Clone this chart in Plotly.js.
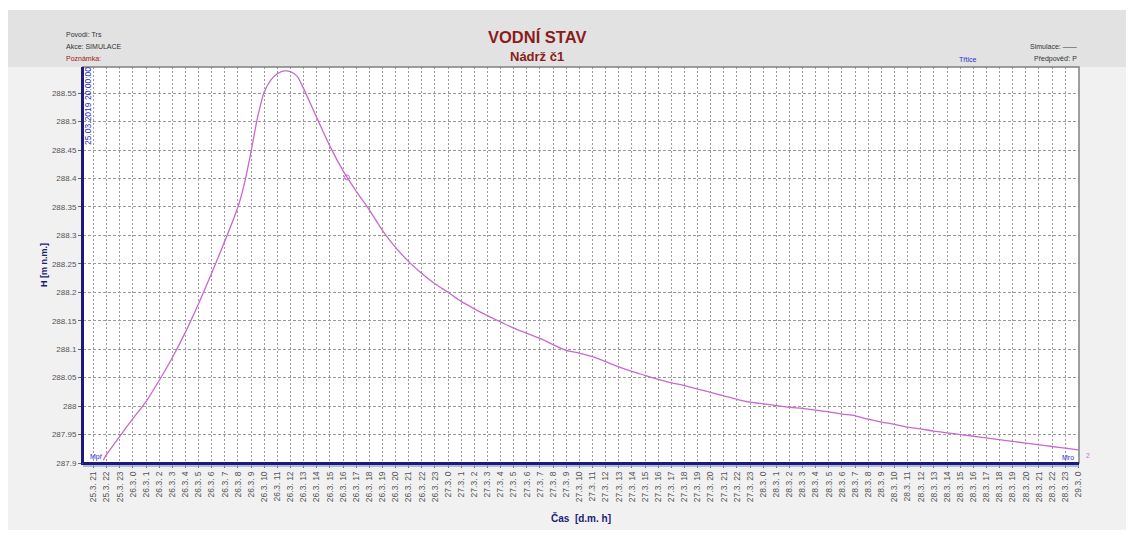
<!DOCTYPE html>
<html>
<head>
<meta charset="utf-8">
<script src="https://cdn.plot.ly/plotly-3.0.1.min.js"></script>
<style>html,body{margin:0;padding:0;background:#fff;}#chart{width:1134px;height:541px;}</style>
</head>
<body>
<div id="chart"></div>
<script>
// hours since 25.3. 21:00
const hours = [0.75,1,2,3,4,5,6,7,8,9,10,11,11.5,12,12.5,13,13.5,14,14.5,15,15.5,16,17,18,19,20,21,22,23,24,25,26,27,28,29,30,31,32,33,34,35,36,37,38,39,40,41,42,43,44,45,46,47,48,49,50,51,52,53,54,55,56,57,58,59,60,61,62,63,64,65,66,67,68,69,70,71,72,73,74,75];
const level = [287.905,287.915,287.947,287.978,288.008,288.045,288.085,288.130,288.180,288.234,288.290,288.350,288.392,288.448,288.508,288.552,288.573,288.584,288.589,288.588,288.580,288.558,288.507,288.457,288.414,288.378,288.345,288.309,288.279,288.254,288.233,288.215,288.200,288.184,288.171,288.159,288.148,288.137,288.128,288.119,288.108,288.098,288.093,288.087,288.078,288.069,288.061,288.054,288.047,288.041,288.036,288.030,288.024,288.018,288.012,288.007,288.004,288.001,287.998,287.996,287.993,287.990,287.986,287.983,287.977,287.972,287.968,287.963,287.960,287.956,287.953,287.950,287.947,287.944,287.941,287.938,287.935,287.932,287.929,287.926,287.923];
const markerHour = [19.3];
const markerLevel = [288.402];
const tickText = ["25.3. 21","25.3. 22","25.3. 23",
"26.3. 0","26.3. 1","26.3. 2","26.3. 3","26.3. 4","26.3. 5","26.3. 6","26.3. 7","26.3. 8","26.3. 9","26.3. 10","26.3. 11","26.3. 12","26.3. 13","26.3. 14","26.3. 15","26.3. 16","26.3. 17","26.3. 18","26.3. 19","26.3. 20","26.3. 21","26.3. 22","26.3. 23",
"27.3. 0","27.3. 1","27.3. 2","27.3. 3","27.3. 4","27.3. 5","27.3. 6","27.3. 7","27.3. 8","27.3. 9","27.3. 10","27.3. 11","27.3. 12","27.3. 13","27.3. 14","27.3. 15","27.3. 16","27.3. 17","27.3. 18","27.3. 19","27.3. 20","27.3. 21","27.3. 22","27.3. 23",
"28.3. 0","28.3. 1","28.3. 2","28.3. 3","28.3. 4","28.3. 5","28.3. 6","28.3. 7","28.3. 8","28.3. 9","28.3. 10","28.3. 11","28.3. 12","28.3. 13","28.3. 14","28.3. 15","28.3. 16","28.3. 17","28.3. 18","28.3. 19","28.3. 20","28.3. 21","28.3. 22","28.3. 23",
"29.3. 0"];
const tickVals = tickText.map((t, i) => i);
const yTicks = [287.9,287.95,288,288.05,288.1,288.15,288.2,288.25,288.3,288.35,288.4,288.45,288.5,288.55];

const FONT = 'Arial, "Liberation Sans", sans-serif';
const NAVY = '#1c1c78';
const L = 83, R = 1079, T = 67, B = 463;
const px = x => (x - L) / (R - L);
const py = y => (B - y) / (B - T);

const traces = [
  {x: hours, y: level, type: 'scatter', mode: 'lines', line: {color: '#c868d0', width: 1.3, shape: 'spline', smoothing: 0.8}, hoverinfo: 'x+y'},
  {x: markerHour, y: markerLevel, type: 'scatter', mode: 'markers', marker: {symbol: 'circle-open', size: 5, color: '#c868d0', line: {width: 1}}}
];

const ann = (x, y, text, opts) => Object.assign({xref: 'paper', yref: 'paper', x: px(x), y: py(y), text: text, showarrow: false, font: {family: FONT, size: 7, color: '#333'}, xanchor: 'left', yanchor: 'middle'}, opts || {});

const layout = {
  width: 1134, height: 541,
  margin: {l: L, r: 1134 - R, t: T, b: 541 - B},
  paper_bgcolor: '#ffffff',
  plot_bgcolor: '#ffffff',
  showlegend: false,
  font: {family: FONT},
  xaxis: {
    range: [-0.8, 75.05], tickvals: tickVals, ticktext: tickText, tickangle: -90,
    tickfont: {family: FONT, size: 8.5, color: '#555'},
    showgrid: true, gridcolor: '#9a9a9a', griddash: '2px,2px', gridwidth: 1,
    zeroline: false, showline: true, linecolor: NAVY, linewidth: 2, mirror: false,
    ticks: 'outside', ticklen: 3, tickcolor: '#666',
    title: {text: 'Čas  [d.m. h]', font: {family: FONT, size: 10, color: NAVY, weight: 'bold'}, standoff: 14}
  },
  yaxis: {
    range: [287.9, 288.596], tickvals: yTicks, ticktext: yTicks.map(v => String(v)),
    tickfont: {family: FONT, size: 8, color: '#555'},
    showgrid: true, gridcolor: '#9a9a9a', griddash: '3px,2px', gridwidth: 1,
    zeroline: false, showline: true, linecolor: NAVY, linewidth: 2,
    ticks: 'outside', ticklen: 3, tickcolor: '#666',
    title: {text: 'H [m n.m.]', font: {family: FONT, size: 9, color: NAVY, weight: 'bold'}, standoff: 3}
  },
  shapes: [
    {type: 'rect', xref: 'paper', yref: 'paper', x0: px(8), x1: px(1126), y0: py(530), y1: py(10), fillcolor: '#f1f1f1', line: {width: 0}, layer: 'below'},
    {type: 'rect', xref: 'paper', yref: 'paper', x0: px(8), x1: px(1126), y0: py(67), y1: py(10), fillcolor: '#e2e2e2', line: {width: 0}, layer: 'below'},
    {type: 'rect', xref: 'paper', yref: 'paper', x0: 0, x1: 1, y0: 0, y1: 1, fillcolor: '#ffffff', line: {width: 0}, layer: 'below'},
    {type: 'rect', xref: 'paper', yref: 'paper', x0: 0, x1: 1, y0: 0, y1: 1, fillcolor: 'rgba(0,0,0,0)', line: {color: '#808080', width: 1.5}},
    {type: 'line', xref: 'paper', yref: 'paper', x0: 0, x1: 1, y0: py(466), y1: py(466), line: {color: '#9aa6d8', width: 1.5}},
    {type: 'line', xref: 'paper', yref: 'paper', x0: 0, x1: 0, y0: 0, y1: 1, line: {color: NAVY, width: 2}},
    {type: 'line', xref: 'paper', yref: 'paper', x0: 0, x1: 1, y0: 0, y1: 0, line: {color: NAVY, width: 2}}
  ],
  annotations: [
    ann(64, 35, 'Povodí: Trs'),
    ann(64, 47, 'Akce: SIMULACE'),
    ann(64, 58, 'Poznámka:', {font: {family: FONT, size: 7, color: '#a01818'}}),
    ann(537, 37, 'VODNÍ STAV', {xanchor: 'center', font: {family: FONT, size: 16.5, color: '#8b1c1c', weight: 'bold'}}),
    ann(537, 56, 'Nádrž č1', {xanchor: 'center', font: {family: FONT, size: 13, color: '#8b1c1c', weight: 'bold'}}),
    ann(1079, 47, 'Simulace: ——', {xanchor: 'right'}),
    ann(1079, 59, 'Předpověď: P', {xanchor: 'right'}),
    ann(968, 59, 'Třtice', {xanchor: 'center', font: {family: FONT, size: 7, color: '#2a2ad0'}}),
    ann(88, 106, '25.03.2019 20:00:00', {xanchor: 'center', textangle: -90, font: {family: FONT, size: 8.5, color: '#2a2ad0'}}),
    ann(88, 457, 'Mpř', {font: {family: FONT, size: 7, color: '#2a2ad0'}}),
    ann(1076, 457, 'Mro', {xanchor: 'right', font: {family: FONT, size: 7, color: '#2a2ad0'}}),
    ann(1088, 455, '2', {xanchor: 'center', font: {family: FONT, size: 7, color: '#d070d0'}})
  ]
};

Plotly.newPlot('chart', traces, layout, {staticPlot: true, displayModeBar: false});
</script>
</body>
</html>
